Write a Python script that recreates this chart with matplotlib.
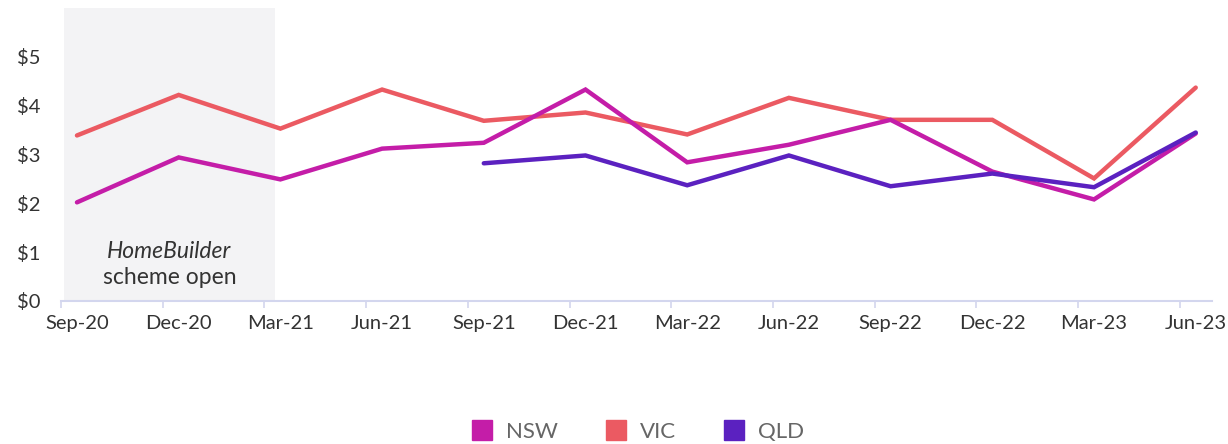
import numpy as np
import matplotlib.pyplot as plt
from matplotlib.lines import Line2D

quarters = ["Sep-20", "Dec-20", "Mar-21", "Jun-21", "Sep-21", "Dec-21",
            "Mar-22", "Jun-22", "Sep-22", "Dec-22", "Mar-23", "Jun-23"]
nsw = [2.02, 2.94, 2.49, 3.12, 3.24, 4.33, 2.84, 3.20, 3.71, 2.65, 2.08, 3.43]
vic = [3.39, 4.22, 3.53, 4.33, 3.69, 3.86, 3.41, 4.16, 3.71, 3.71, 2.51, 4.37]
qld = [np.nan, np.nan, np.nan, np.nan, 2.82, 2.98, 2.37, 2.98, 2.35, 2.61, 2.33, 3.45]
y_ticks = [0, 1, 2, 3, 4, 5]

NSW_C = "#C41DA8"
VIC_C = "#EB5A62"
QLD_C = "#5B21C0"
AXIS_C = "#D3D6EE"

plt.rcParams['font.family'] = ['Lato', 'DejaVu Sans']

fig = plt.figure(figsize=(12.28, 4.44), dpi=100)
ax = fig.add_axes([61/1228, 1 - 301/444, (1212-61)/1228, (301-8)/444])

x = np.arange(len(quarters))
off = 0.157  # category ticks sit a bit left of the points

# HomeBuilder shaded period
ax.axvspan(-0.128, 1.95, color="#F3F3F5", zorder=0, lw=0)
ax.text(0.91, 1.01, "HomeBuilder", style="italic", ha="center", va="center",
        fontsize=16.5, color="#333333")
ax.text(0.91, 0.48, "scheme open", ha="center", va="center",
        fontsize=16.5, color="#333333")

kw = dict(lw=3.2, solid_capstyle="round", solid_joinstyle="miter")
ax.plot(x, vic, color=VIC_C, **kw, zorder=3)
ax.plot(x, nsw, color=NSW_C, **kw, zorder=4)
ax.plot(x, qld, color=QLD_C, **kw, zorder=5)

ax.set_xlim(-off, 11.16)
ax.set_ylim(0, 6)

for s in ["top", "right", "left"]:
    ax.spines[s].set_visible(False)
ax.spines["bottom"].set_color(AXIS_C)
ax.spines["bottom"].set_linewidth(1.5)

ax.set_xticks(x - off)
ax.set_xticklabels([])
ax.tick_params(axis="x", which="major", length=5, width=1.2, color=AXIS_C)
ax.set_xticks(x, minor=True)
ax.set_xticklabels(quarters, minor=True, fontsize=14.5, color="#333333")
ax.tick_params(axis="x", which="minor", length=0, pad=10)

ax.set_yticks(y_ticks)
ax.set_yticklabels([f"${v}" for v in y_ticks], fontsize=14.5, color="#333333")
ax.tick_params(axis="y", length=0, pad=15)

handles = [Line2D([], [], ls="", marker="s", ms=15, color=c)
           for c in (NSW_C, VIC_C, QLD_C)]
fig.legend(handles, ["NSW", "VIC", "QLD"], loc="center", bbox_to_anchor=(632/1228, 1 - 432/444),
           ncol=3, frameon=False, fontsize=16, handletextpad=0.1, columnspacing=1.6,
           labelcolor="#666666")

fig.savefig("out.png", dpi=100)
